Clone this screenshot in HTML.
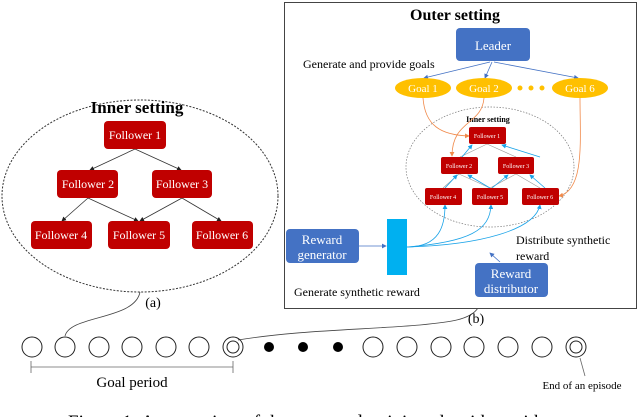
<!DOCTYPE html>
<html><head><meta charset="utf-8"><style>
body{margin:0;background:#fff;}
svg{display:block;font-family:"Liberation Serif",serif;}
</style></head><body>
<svg width="640" height="417" viewBox="0 0 640 417" xmlns="http://www.w3.org/2000/svg">
<defs>
<marker id="ab" markerWidth="6" markerHeight="6" refX="5" refY="3" orient="auto"><path d="M0,0L6,3L0,6z" fill="#222"/></marker>
<marker id="ac" markerWidth="6" markerHeight="6" refX="5" refY="3" orient="auto"><path d="M0,0L6,3L0,6z" fill="#1aa3e8"/></marker>
<marker id="ao" markerWidth="6" markerHeight="6" refX="5" refY="3" orient="auto"><path d="M0,0L6,3L0,6z" fill="#f08a4b"/></marker>
<marker id="abl" markerWidth="6" markerHeight="6" refX="5" refY="3" orient="auto"><path d="M0,0L6,3L0,6z" fill="#4472c4"/></marker>
</defs>
<ellipse cx="140" cy="196" rx="138" ry="96" fill="none" stroke="#333" stroke-dasharray="2,1.5"/>
<text x="137" y="113" font-size="17" font-weight="bold" text-anchor="middle">Inner setting</text>
<g stroke="#333" stroke-width="0.8" marker-end="url(#ab)">
<line x1="135" y1="149" x2="90" y2="170"/><line x1="135" y1="149" x2="181" y2="170"/>
<line x1="88" y1="198" x2="62" y2="221"/><line x1="88" y1="198" x2="138" y2="221"/>
<line x1="182" y1="198" x2="140" y2="221"/><line x1="182" y1="198" x2="221" y2="221"/>
</g>
<g fill="#c00000">
<rect x="104" y="121" width="62" height="28" rx="4"/>
<rect x="57" y="170" width="61" height="28" rx="4"/>
<rect x="152" y="170" width="60" height="28" rx="4"/>
<rect x="31" y="221" width="61" height="28" rx="4"/>
<rect x="108" y="221" width="62" height="28" rx="4"/>
<rect x="192" y="221" width="61" height="28" rx="4"/>
</g>
<g fill="#fff" font-size="12" text-anchor="middle">
<text x="135" y="139">Follower 1</text><text x="88" y="188">Follower 2</text><text x="182" y="188">Follower 3</text>
<text x="61" y="239">Follower 4</text><text x="139" y="239">Follower 5</text><text x="222" y="239">Follower 6</text>
</g>
<text x="153" y="307" font-size="14" text-anchor="middle">(a)</text>
<path d="M140,292 C135,320 70,315 65,336" fill="none" stroke="#444" stroke-width="0.8"/>
<path d="M238,340 C300,330 360,330 420,325 C450,322 470,320 478,308" fill="none" stroke="#444" stroke-width="0.8"/>
<rect x="284.5" y="2.5" width="352" height="306" fill="#fff" stroke="#444"/>
<text x="455" y="20" font-size="16" font-weight="bold" text-anchor="middle">Outer setting</text>
<rect x="456" y="28" width="74" height="33" rx="4" fill="#4472c4"/>
<text x="493" y="50" font-size="13" fill="#fff" text-anchor="middle">Leader</text>
<text x="303" y="68" font-size="12">Generate and provide goals</text>
<g stroke="#4472c4" stroke-width="0.8" marker-end="url(#abl)">
<line x1="490" y1="62" x2="424" y2="78"/><line x1="492" y1="62" x2="485" y2="78"/><line x1="494" y1="62" x2="578" y2="78"/>
</g>
<g fill="#ffc000">
<ellipse cx="423" cy="88" rx="28" ry="10"/><ellipse cx="484" cy="88" rx="28" ry="10"/><ellipse cx="580" cy="88" rx="28" ry="10"/>
<circle cx="520" cy="88" r="2.5"/><circle cx="531" cy="88" r="2.5"/><circle cx="542" cy="88" r="2.5"/>
</g>
<g fill="#fff" font-size="11" text-anchor="middle">
<text x="423" y="92">Goal 1</text><text x="484" y="92">Goal 2</text><text x="580" y="92">Goal 6</text>
</g>
<ellipse cx="490" cy="167" rx="84" ry="60" fill="none" stroke="#777" stroke-width="0.7" stroke-dasharray="1.5,1.5"/>
<text x="488" y="122" font-size="8" font-weight="bold" text-anchor="middle">Inner setting</text>
<g stroke="#f08a4b" stroke-width="0.8" fill="none" marker-end="url(#ao)">
<path d="M423,98 C425,125 440,135 469,136"/>
<path d="M484,98 C482,125 452,120 452,156"/>
<path d="M580,98 C580,140 585,190 559,196"/>
</g>
<g stroke="#999" stroke-width="0.6">
<line x1="487" y1="144" x2="460" y2="157"/><line x1="487" y1="144" x2="516" y2="157"/>
<line x1="459" y1="174" x2="443" y2="188"/><line x1="459" y1="174" x2="490" y2="188"/>
<line x1="516" y1="174" x2="490" y2="188"/><line x1="516" y1="174" x2="540" y2="188"/>
</g>
<g stroke="#1aa3e8" stroke-width="0.8" fill="none" marker-end="url(#ac)">
<line x1="462" y1="157" x2="472" y2="145"/><line x1="540" y1="157" x2="502" y2="145"/>
<line x1="445" y1="188" x2="457" y2="175"/><line x1="490" y1="188" x2="468" y2="175"/>
<line x1="492" y1="188" x2="508" y2="175"/><line x1="545" y1="188" x2="530" y2="175"/>
<path d="M407,247 C440,247 445,225 445,205"/>
<path d="M407,247 C470,242 490,230 491,205"/>
<path d="M407,247 C480,245 535,230 540,205"/>
</g>
<g fill="#c00000">
<rect x="469" y="127" width="37" height="17" rx="2"/>
<rect x="441" y="157" width="37" height="17" rx="2"/>
<rect x="498" y="157" width="36" height="17" rx="2"/>
<rect x="425" y="188" width="37" height="17" rx="2"/>
<rect x="472" y="188" width="36" height="17" rx="2"/>
<rect x="522" y="188" width="37" height="17" rx="2"/>
</g>
<g fill="#fff" font-size="6" text-anchor="middle">
<text x="487" y="138">Follower 1</text><text x="459" y="168">Follower 2</text><text x="516" y="168">Follower 3</text>
<text x="443" y="199">Follower 4</text><text x="490" y="199">Follower 5</text><text x="540" y="199">Follower 6</text>
</g>
<rect x="286" y="229" width="73" height="34" rx="4" fill="#4472c4"/>
<text x="322" y="244" font-size="13" fill="#fff" text-anchor="middle">Reward</text>
<text x="322" y="259" font-size="13" fill="#fff" text-anchor="middle">generator</text>
<line x1="359" y1="246" x2="386" y2="246" stroke="#4472c4" stroke-width="0.8" marker-end="url(#abl)"/>
<rect x="387" y="219" width="20" height="56" fill="#00b0f0"/>
<text x="294" y="296" font-size="12">Generate synthetic reward</text>
<rect x="475" y="263" width="73" height="34" rx="4" fill="#4472c4"/>
<text x="511" y="278" font-size="13" fill="#fff" text-anchor="middle">Reward</text>
<text x="511" y="293" font-size="13" fill="#fff" text-anchor="middle">distributor</text>
<line x1="500" y1="262" x2="490" y2="253" stroke="#4472c4" stroke-width="0.8" marker-end="url(#abl)"/>
<text x="516" y="244" font-size="12">Distribute synthetic</text>
<text x="516" y="260" font-size="12">reward</text>
<text x="476" y="323" font-size="14" text-anchor="middle">(b)</text>
<g fill="none" stroke="#222" stroke-width="1">
<circle cx="32" cy="347" r="10"/><circle cx="65" cy="347" r="10"/><circle cx="99" cy="347" r="10"/><circle cx="132" cy="347" r="10"/><circle cx="166" cy="347" r="10"/><circle cx="199" cy="347" r="10"/>
<circle cx="233" cy="347" r="10"/><circle cx="233" cy="347" r="6"/>
<circle cx="373" cy="347" r="10"/><circle cx="407" cy="347" r="10"/><circle cx="441" cy="347" r="10"/><circle cx="474" cy="347" r="10"/><circle cx="508" cy="347" r="10"/><circle cx="542" cy="347" r="10"/>
<circle cx="576" cy="347" r="10"/><circle cx="576" cy="347" r="6"/>
</g>
<g fill="#000"><circle cx="269" cy="347" r="5"/><circle cx="303" cy="347" r="5"/><circle cx="338" cy="347" r="5"/></g>
<g stroke="#666" stroke-width="0.8"><line x1="31" y1="367" x2="233" y2="367"/><line x1="31" y1="361" x2="31" y2="373"/><line x1="233" y1="361" x2="233" y2="373"/>
<line x1="585" y1="376" x2="580" y2="358"/></g>
<text x="132" y="387" font-size="15" text-anchor="middle">Goal period</text>
<text x="582" y="389" font-size="11" text-anchor="middle">End of an episode</text>
<text x="68" y="428" font-size="19">Figure 1: An overview of the proposed training algorithm with</text>
</svg>
</body></html>
